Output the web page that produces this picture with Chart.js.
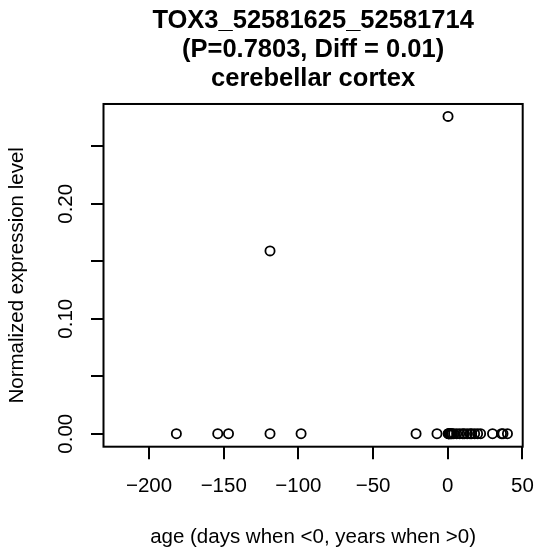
<!DOCTYPE html>
<html>
<head>
<meta charset="utf-8">
<script src="https://cdn.jsdelivr.net/npm/chart.js@4"></script>
<style>
  html, body { margin: 0; padding: 0; background: #ffffff; }
  #wrap { width: 536px; height: 553px; position: relative; }
</style>
</head>
<body>
<div id="wrap"><canvas id="c" width="536" height="553"></canvas></div>
<script>
// ---- data ----
const titleLines = ["TOX3_52581625_52581714", "(P=0.7803, Diff = 0.01)", "cerebellar cortex"];
const xAxisTitle = "age (days when <0, years when >0)";
const yAxisTitle = "Normalized expression level";
const ages = [-181.7, -154, -146.8, -119, -119, -98.2, -21.2, -7.2, 0.2,
              0.3, 0.5, 0.8, 1, 1.5, 2, 2.5, 3, 4, 6, 8, 10, 11, 13, 15, 16, 18, 20, 22, 30, 36, 37, 40];
const expression = [0, 0, 0, 0, 0.159, 0, 0, 0, 0.276,
              0, 0, 0, 0, 0, 0, 0, 0, 0, 0, 0, 0, 0, 0, 0, 0, 0, 0, 0, 0, 0, 0, 0];
const xTickValues = [-200, -150, -100, -50, 0, 50];
const yTickValues = [0, 0.05, 0.10, 0.15, 0.20, 0.25];
const yTickLabels = ["0.00", "", "0.10", "", "0.20", ""];

const points = ages.map((a, i) => ({ x: a, y: expression[i] }));

const boxPlugin = {
  id: 'box',
  afterDraw(chart) {
    const { ctx, chartArea: a } = chart;
    ctx.save();
    ctx.strokeStyle = '#000';
    ctx.lineWidth = 2;
    ctx.strokeRect(a.left, a.top, a.right - a.left, a.bottom - a.top);
    ctx.restore();
  }
};

const FONT = "'Liberation Sans', Arial, Helvetica, sans-serif";

new Chart(document.getElementById('c'), {
  type: 'scatter',
  data: {
    datasets: [{
      data: points,
      showLine: false,
      pointStyle: 'circle',
      pointRadius: 4.6,
      pointHoverRadius: 4.6,
      borderColor: '#000',
      backgroundColor: 'rgba(0,0,0,0)',
      pointBorderWidth: 1.8,
      borderWidth: 1.8
    }]
  },
  options: {
    responsive: false,
    animation: false,
    events: [],
    layout: { padding: { left: 0, right: 13.3, top: 0, bottom: 0 } },
    plugins: {
      legend: { display: false },
      tooltip: { enabled: false },
      title: {
        display: true,
        fullSize: false,
        text: titleLines,
        color: '#000',
        font: { family: FONT, size: 25.5, weight: 'bold', lineHeight: 1.137 },
        padding: { top: 6.3, bottom: 10.7 }
      }
    },
    scales: {
      x: {
        type: 'linear',
        position: 'bottom',
        min: -230.5,
        max: 50.2,
        afterBuildTicks: (s) => { s.ticks = xTickValues.map(v => ({ value: v })); },
        afterFit: (s) => { s.height = 106.3; s.paddingLeft = 0; s.paddingRight = 0; },
        ticks: {
          color: '#000',
          font: { family: FONT, size: 20.5 },
          padding: 14.5,
          maxRotation: 0,
          minRotation: 0,
          callback: (v) => (v < 0 ? '\u2212' + Math.abs(v) : String(v))
        },
        grid: {
          display: true,
          drawOnChartArea: false,
          drawTicks: true,
          tickLength: 12.5,
          color: '#000',
          lineWidth: 2
        },
        border: { display: false },
        title: {
          display: true,
          text: xAxisTitle,
          color: '#000',
          font: { family: FONT, size: 20.5 },
          padding: { top: 0, bottom: 3.7 }
        }
      },
      y: {
        type: 'linear',
        position: 'left',
        min: -0.0113,
        max: 0.2868,
        afterBuildTicks: (s) => { s.ticks = yTickValues.map(v => ({ value: v })); },
        afterFit: (s) => { s.width = 103.5; s.paddingTop = 0; s.paddingBottom = 0; },
        ticks: {
          color: '#000',
          font: { family: FONT, size: 20.5 },
          padding: 4.5,
          minRotation: 90,
          maxRotation: 90,
          crossAlign: 'center',
          callback: (v, i) => yTickLabels[i]
        },
        grid: {
          display: true,
          drawOnChartArea: false,
          drawTicks: true,
          tickLength: 12.5,
          color: '#000',
          lineWidth: 2
        },
        border: { display: false },
        title: {
          display: true,
          text: yAxisTitle,
          color: '#000',
          font: { family: FONT, size: 20.5 },
          padding: { top: 5, bottom: 0 }
        }
      }
    }
  },
  plugins: [boxPlugin]
});
</script>
</body>
</html>
